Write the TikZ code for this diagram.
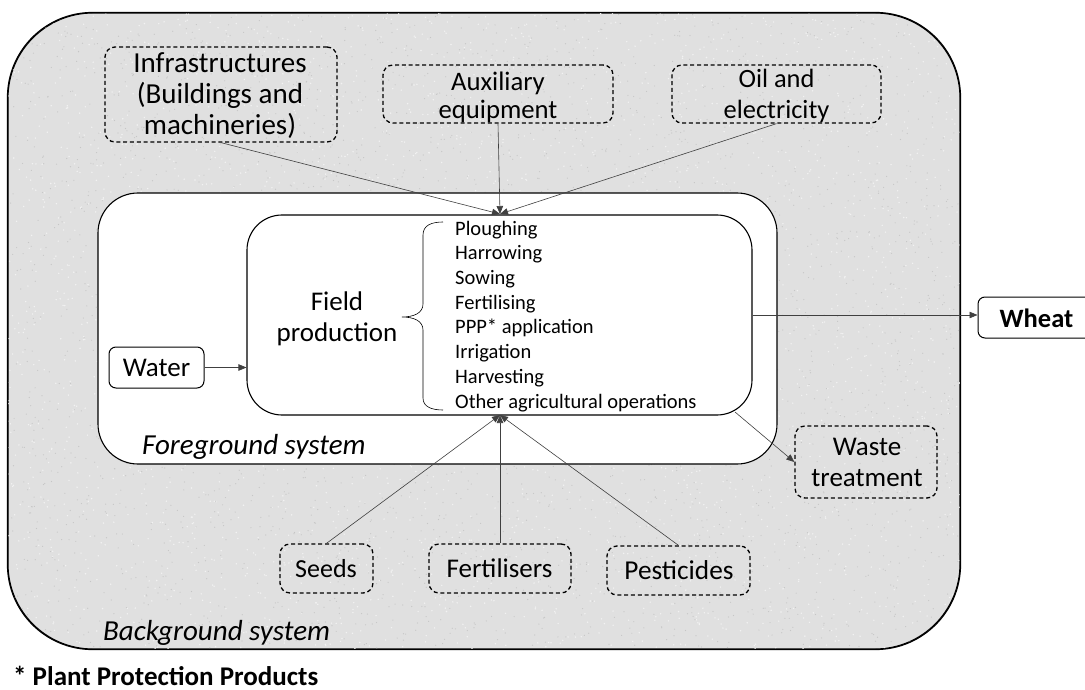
\documentclass[tikz,border=0pt]{standalone}
\usepackage{fontspec}
\setmainfont{Carlito}
\usetikzlibrary{arrows.meta,calc}
\definecolor{bggray}{RGB}{224,224,224}
\definecolor{speckL}{RGB}{242,242,242}
\definecolor{speckD}{RGB}{198,198,198}
\begin{document}
\begin{tikzpicture}[x=1pt,y=-1pt,
  solidbox/.style={draw=black,line width=1.1pt,rectangle,inner sep=0pt},
  dashbox/.style={draw=black,line width=1.3pt,dash pattern=on 4pt off 2.8pt,rectangle,rounded corners=10pt,inner sep=0pt},
  boxtxt/.style={inner sep=0pt,align=center,anchor=base,font=\fontsize{27}{30}\selectfont},
  conn/.style={draw=black!75,line width=0.6pt,-{Triangle[length=8pt,width=6.5pt]}},
  lbl/.style={inner sep=0pt,font=\fontsize{29}{32}\selectfont\itshape,anchor=base west}
]
\useasboundingbox (0,0) rectangle (1085,690);
% background system
\node[solidbox,fill=bggray,rounded corners=85pt,minimum width=952pt,minimum height=636pt] (bg) at (484,331) {};
\begin{scope}
  \clip[rounded corners=85pt] (bg.south west) rectangle (bg.north east);
  \pgfmathsetseed{7}
  \foreach \i in {1,...,3000} {\fill[speckL] (8+952*rnd,13+636*rnd) circle (0.8pt);}
  \foreach \i in {1,...,3000} {\fill[speckD] (8+952*rnd,13+636*rnd) circle (0.6pt);}
\end{scope}
\draw[line width=1.1pt,rounded corners=85pt] (bg.south west) rectangle (bg.north east);
\node[lbl] (bgl) at (103,640) {Background system};
% foreground system
\node[solidbox,fill=white,rounded corners=40pt,minimum width=679pt,minimum height=271pt] (fg) at (437.5,328.5) {};
\node[lbl] (fgl) at (142,454) {Foreground system};
% field production
\node[solidbox,fill=white,rounded corners=35pt,minimum width=505pt,minimum height=200pt] (field) at (499.5,315) {};
\node[boxtxt,font=\fontsize{27}{31.5}\selectfont] (fieldt) at (337,341.5) {Field\\production};
\draw[line width=0.6pt] (443,222) .. controls (432,222) and (423,225) .. (423,235)
  -- (423,304) .. controls (423,313) and (414,317) .. (402,317)
  .. controls (414,317) and (423,321) .. (423,330)
  -- (423,398) .. controls (423,407) and (432,410) .. (443,410);
\node[inner sep=0pt,align=left,anchor=base west,font=\fontsize{20.5}{24.7}\selectfont] (list) at (455,408) {Ploughing\\Harrowing\\Sowing\\Fertilising\\PPP* application\\Irrigation\\Harvesting\\Other agricultural operations};
% water, wheat
\node[draw=black,line width=1pt,rounded corners=7pt,minimum width=95pt,minimum height=41pt,inner sep=0pt,fill=white] (water) at (156.5,367.5) {};
\node[boxtxt] (watert) at (156.5,376) {Water};
\node[draw=black,line width=1pt,rounded corners=7pt,minimum width=116pt,minimum height=41pt,inner sep=0pt,fill=white] (wheat) at (1036,317.5) {};
\node[boxtxt,font=\fontsize{26.5}{30}\selectfont\bfseries] (wheatt) at (1036.5,327) {Wheat};
% dashed boxes
\node[dashbox,minimum width=232pt,minimum height=95pt] (infra) at (221,94.5) {};
\node[boxtxt,font=\fontsize{29}{31}\selectfont] (infrat) at (220,135) {Infrastructures\\(Buildings and\\machineries)};
\node[dashbox,minimum width=230pt,minimum height=58pt] (aux) at (498,94) {};
\node[boxtxt,font=\fontsize{26.7}{28.5}\selectfont] (auxt) at (498,119) {Auxiliary\\equipment};
\node[dashbox,minimum width=209pt,minimum height=58pt] (oil) at (776.5,94) {};
\node[boxtxt,font=\fontsize{26.4}{30.5}\selectfont] (oilt) at (776.5,118.5) {Oil and\\electricity};
\node[dashbox,minimum width=142pt,minimum height=72pt] (waste) at (866,462) {};
\node[boxtxt,font=\fontsize{27}{31}\selectfont] (wastet) at (867,486) {Waste\\treatment};
\node[dashbox,minimum width=93pt,minimum height=49pt] (seeds) at (326.5,568.5) {};
\node[boxtxt,font=\fontsize{26}{30}\selectfont] (seedst) at (326,577) {Seeds};
\node[dashbox,minimum width=142pt,minimum height=49pt] (fert) at (500,568.5) {};
\node[boxtxt] (fertt) at (499.5,577) {Fertilisers};
\node[dashbox,minimum width=143pt,minimum height=49pt] (pest) at (678.5,570.5) {};
\node[boxtxt,font=\fontsize{27.3}{30}\selectfont] (pestt) at (679,579) {Pesticides};
% footnote
\node[inner sep=0pt,anchor=base west,font=\fontsize{27}{30}\selectfont\bfseries] (foot) at (13,685) {* Plant Protection Products};
% connectors
\coordinate (ftop) at (500,214);
\coordinate (fbot) at (500,415);
\coordinate (wasteO) at (735,412);
\draw[conn] (infra.south) -- (ftop);
\draw[conn] (aux.south) -- (ftop);
\draw[conn] (oil.south) -- (ftop);
\draw[conn] (seeds.north) -- (fbot);
\draw[conn] (fert.north) -- (fbot);
\draw[conn] (pest.north) -- (fbot);
\draw[conn] (water.east) -- (water.east -| field.west);
\draw[conn] (field.east) -- (field.east -| wheat.west);
\draw[conn] (wasteO) -- (waste.west);
\end{tikzpicture}
\end{document}
